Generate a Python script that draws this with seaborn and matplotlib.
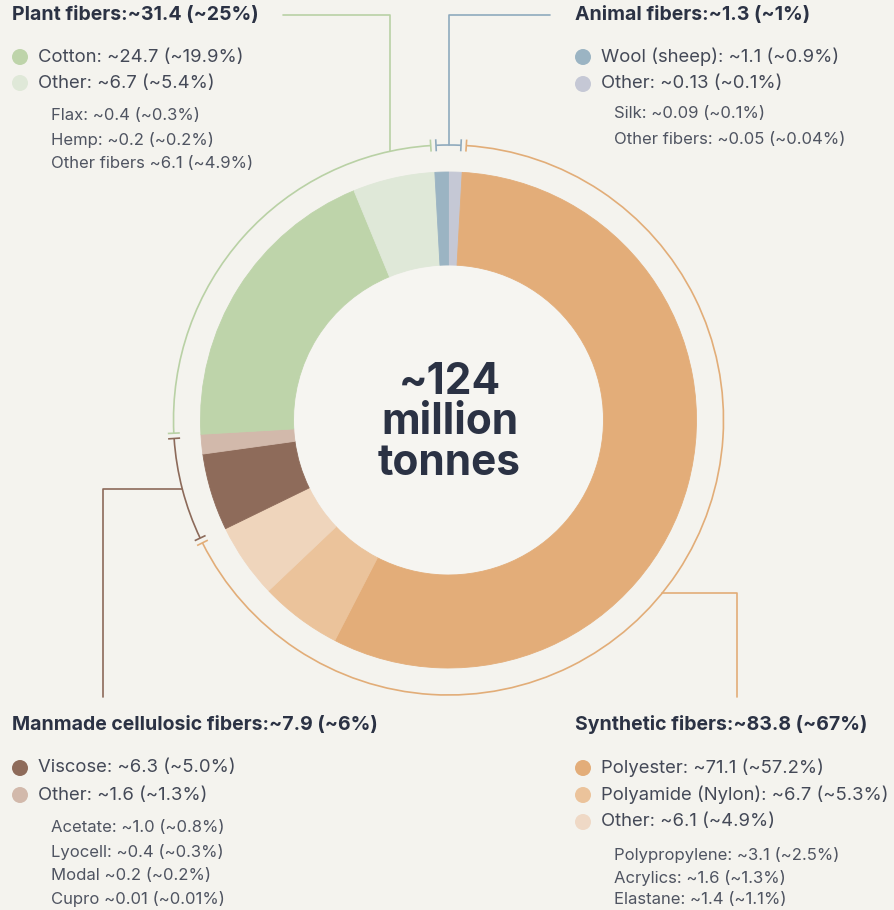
import numpy as np
import matplotlib
matplotlib.use("Agg")
import matplotlib.pyplot as plt
import seaborn as sns
from matplotlib.patches import Arc, Circle

# ---------------- data ----------------
# wedges, clockwise from 12 o'clock
wedge_names = ["Animal other", "Polyester", "Polyamide (Nylon)", "Synthetic other",
               "Viscose", "Manmade other", "Cotton", "Plant other", "Wool (sheep)"]
wedge_values = [0.13, 71.1, 6.7, 6.1, 6.3, 1.6, 24.7, 6.7, 1.1]
wedge_group = [1, 3, 3, 3, 2, 2, 0, 0, 1]
wedge_colors = ["#c5c8d5", "#e3ad79", "#ebc39b", "#efd5bc",
                "#8e6b5a", "#d2b9ab", "#bed4aa", "#dfe8d8", "#9bb4c3"]
MIN_VISIBLE = 1.1  # smallest drawn slice so tiny shares stay visible

group_names = ["Plant fibers", "Animal fibers", "Manmade cellulosic fibers", "Synthetic fibers"]
group_totals = ["~31.4", "~1.3", "~7.9", "~83.8"]
group_pcts = ["~25%", "~1%", "~6%", "~67%"]
group_colors = ["#b9d1a5", "#8faabd", "#8c6a5a", "#e2ad78"]

plant_items = ["Cotton: ~24.7 (~19.9%)", "Other: ~6.7 (~5.4%)"]
plant_item_colors = ["#bed4aa", "#dfe8d8"]
plant_subs = ["Flax: ~0.4 (~0.3%)", "Hemp: ~0.2 (~0.2%)", "Other fibers ~6.1 (~4.9%)"]

animal_items = ["Wool (sheep): ~1.1 (~0.9%)", "Other: ~0.13 (~0.1%)"]
animal_item_colors = ["#9bb4c3", "#c5c8d5"]
animal_subs = ["Silk: ~0.09 (~0.1%)", "Other fibers: ~0.05 (~0.04%)"]

manmade_items = ["Viscose: ~6.3 (~5.0%)", "Other: ~1.6 (~1.3%)"]
manmade_item_colors = ["#8e6b5a", "#d2b9ab"]
manmade_subs = ["Acetate: ~1.0 (~0.8%)", "Lyocell: ~0.4 (~0.3%)",
                "Modal ~0.2 (~0.2%)", "Cupro ~0.01 (~0.01%)"]

synth_items = ["Polyester: ~71.1 (~57.2%)", "Polyamide (Nylon): ~6.7 (~5.3%)", "Other: ~6.1 (~4.9%)"]
synth_item_colors = ["#e3ad79", "#ebc39b", "#efd9c6"]
synth_subs = ["Polypropylene: ~3.1 (~2.5%)", "Acrylics: ~1.6 (~1.3%)", "Elastane: ~1.4 (~1.1%)"]

center_text = "~124\nmillion\ntonnes"

# ---------------- style ----------------
BG = "#f4f3ee"
HOLE = "#f6f5f1"
DARK = "#2b3244"
TXT = "#444957"
SUB = "#4f5461"

sns.set_theme(style="white")
plt.rcParams["font.family"] = ["Inter", "DejaVu Sans"]

W, H = 894, 910
fig = plt.figure(figsize=(W / 100, H / 100), dpi=100, facecolor=BG)
ax = fig.add_axes([0, 0, 1, 1])
ax.set_facecolor(BG)


def Y(py):
    return H - py


CX, CY = 448.5, Y(420)
R_OUT, RING = 248, 93
R_ARC = 275

disp = np.maximum(np.array(wedge_values), MIN_VISIBLE)
wedges, _ = ax.pie(disp, colors=wedge_colors, startangle=90, counterclock=False,
                   radius=R_OUT, center=(CX, CY),
                   wedgeprops=dict(width=RING, linewidth=0.6))
for w, c in zip(wedges, wedge_colors):
    w.set_edgecolor(c)
ax.add_patch(Circle((CX, CY), R_OUT - RING - 0.5, facecolor=HOLE, edgecolor="none", zorder=0.5))

# angles (clockwise from top, degrees)
ang = disp / disp.sum() * 360
ends = np.cumsum(ang)
starts = ends - ang

spans = {}
for g in range(4):
    idx = [i for i, gg in enumerate(wedge_group) if gg == g]
    s = [starts[i] for i in idx]
    e = [ends[i] for i in idx]
    if g == 1:  # animal wraps across the top
        a0 = starts[idx[-1]] - 360
        a1 = ends[idx[0]]
    else:
        a0, a1 = min(s), max(e)
    spans[g] = (a0, a1)

GAP = 0.55
CAP = 6


def pt(a, r):
    t = np.deg2rad(a)
    return CX + r * np.sin(t), CY + r * np.cos(t)


for g, (a0, a1) in spans.items():
    b0, b1 = a0 + GAP, a1 - GAP
    ax.add_patch(Arc((CX, CY), 2 * R_ARC, 2 * R_ARC, theta1=90 - b1, theta2=90 - b0,
                     color=group_colors[g], lw=1.2))
    for b in (b0, b1):
        p1, p2 = pt(b, R_ARC - CAP), pt(b, R_ARC + CAP)
        ax.plot([p1[0], p2[0]], [p1[1], p2[1]], color=group_colors[g], lw=1.2,
                solid_capstyle="butt")

# leader lines
def leader(g, a, pts):
    x0, y0 = pt(a, R_ARC)
    xs = [x0] + [p[0] for p in pts]
    ys = [y0] + [Y(p[1]) for p in pts]
    ax.plot(xs, ys, color=group_colors[g], lw=1.2)

leader(0, np.rad2deg(np.arcsin((390 - CX) / R_ARC)), [(390, 15), (283, 15)])
leader(1, 0.0, [(CX, 15), (550, 15)])
leader(3, np.rad2deg(np.arccos((Y(593) - CY) / R_ARC)), [(737, 593), (737, 697)])
leader(2, -np.rad2deg(np.arccos((Y(489) - CY) / R_ARC)), [(103, 489), (103, 697)])

# center text
ax.text(CX + 1, Y(423), center_text, ha="center", va="center", fontsize=30.5,
        fontweight="bold", color=DARK, linespacing=0.98)


# legend blocks
def block(x, y_title, g, items, colors, y_items, subs, y_subs):
    ax.text(x, Y(y_title), f"{group_names[g]}:{group_totals[g]} ({group_pcts[g]})",
            ha="left", va="center", fontsize=14, fontweight="bold", color=DARK)
    for lab, col, yy in zip(items, colors, y_items):
        ax.add_patch(Circle((x + 8, Y(yy)), 8, facecolor=col, edgecolor="none"))
        ax.text(x + 26, Y(yy), lab, ha="left", va="center", fontsize=13.3, color=TXT)
    for lab, yy in zip(subs, y_subs):
        ax.text(x + 39, Y(yy), lab, ha="left", va="center", fontsize=12, color=SUB)


block(12, 15, 0, plant_items, plant_item_colors, [57, 83], plant_subs, [116, 140, 163])
block(575, 15, 1, animal_items, animal_item_colors, [57, 84], animal_subs, [114, 140])
block(12, 725, 2, manmade_items, manmade_item_colors, [768, 795], manmade_subs,
      [828, 852, 875, 899])
block(575, 725, 3, synth_items, synth_item_colors, [768, 795, 822], synth_subs,
      [855, 878, 900])

ax.set_xlim(0, W)
ax.set_ylim(0, H)
ax.set_aspect("equal")
ax.axis("off")

fig.savefig("out.png", dpi=100, facecolor=BG)
